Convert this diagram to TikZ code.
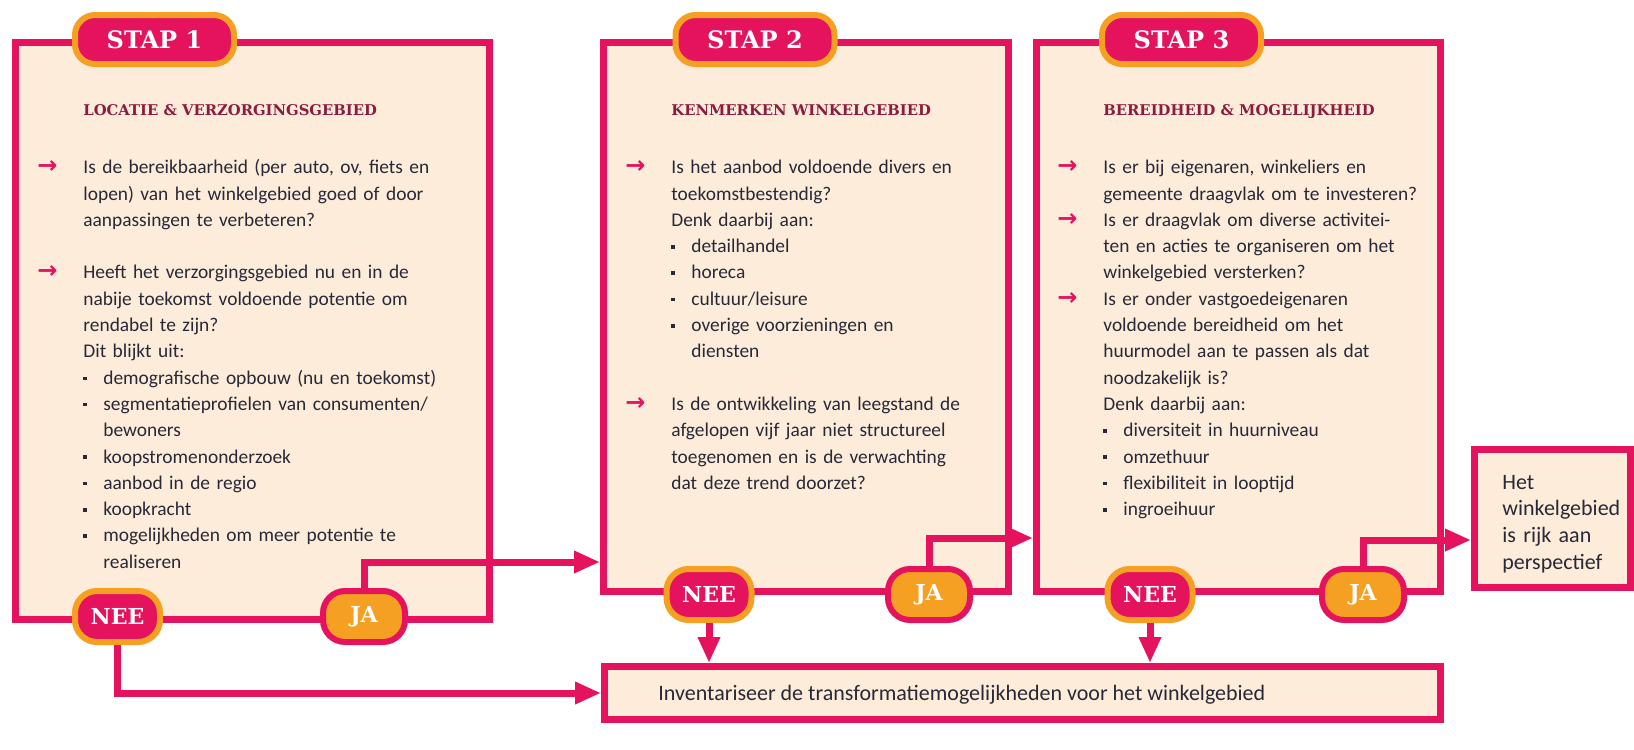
\documentclass[tikz,border=0pt]{standalone}
\usepackage{fontspec}
\setmainfont{Carlito}
\newfontfamily\slabfont{DejaVu Serif}
\newfontfamily\pijlfont{DejaVu Sans}
\usetikzlibrary{arrows.meta}

\definecolor{roze}{RGB}{229,19,94}
\definecolor{oranje}{RGB}{245,160,35}
\definecolor{beige}{RGB}{253,236,218}
\definecolor{wijnrood}{RGB}{140,28,62}
\definecolor{tekstkleur}{RGB}{40,40,55}

\newcommand{\vraag}[1]{\par\noindent\llap{\textcolor{roze}{\pijlfont\bfseries\fontsize{12}{12}\selectfont →}\hspace{13pt}}\strut#1\par}
\newcommand{\punt}[1]{\par\hangindent=10pt\hangafter=1\noindent\makebox[10pt][l]{\raisebox{2pt}{\rule{1.8pt}{1.8pt}}}\strut#1\par}

\tikzset{
  kader/.style={draw=roze, line width=3.5pt, fill=beige, inner sep=0pt},
  stap/.style={draw=oranje, fill=roze, line width=3pt, rounded corners=10pt,
    minimum width=79.5pt, minimum height=24.5pt, text=white,
    font=\slabfont\bfseries\fontsize{12}{12}\selectfont},
  nee/.style={draw=oranje, fill=roze, line width=3pt, rounded corners=11pt,
    minimum width=42.5pt, minimum height=25.5pt, text=white,
    font=\slabfont\bfseries\fontsize{11}{11}\selectfont},
  ja/.style={draw=roze, fill=oranje, line width=3pt, rounded corners=11pt,
    minimum width=41pt, minimum height=25.5pt, text=white,
    font=\slabfont\bfseries\fontsize{11}{11}\selectfont},
  kop/.style={anchor=base west, inner sep=0pt, text=wijnrood,
    font=\slabfont\bfseries\fontsize{7.4}{9}\selectfont},
  tekst/.style={anchor=north west, inner sep=0pt, text width=210pt, align=left,
    text=tekstkleur, font=\fontsize{9.7}{13.15}\selectfont},
  pijl/.style={draw=roze, line width=3.5pt, -{Triangle[length=13pt,width=10.5pt]}},
}

\begin{document}
\begin{tikzpicture}[x=0.5pt, y=-0.5pt]
\useasboundingbox (0,0) rectangle (1634,750);

% kaders
\node[kader, minimum width=237pt, minimum height=288.5pt] (kader1) at (252.5,331) {};
\node[kader, minimum width=202.5pt, minimum height=274.5pt] (kader2) at (806,317) {};
\node[kader, minimum width=202pt, minimum height=274.5pt] (kader3) at (1238.5,317) {};
\node[kader, minimum width=78pt, minimum height=69pt] (einde) at (1552.5,518.5) {};
\node[kader, minimum width=418pt, minimum height=26.5pt] (inv) at (1022.5,693) {};

% stap 1
\node[kop] (kop1) at (83,115) {LOCATIE \& VERZORGINGSGEBIED};
\node[tekst] (tekst1) at (83,147) {%
\vraag{Is de bereikbaarheid (per auto, ov, fiets en\newline lopen) van het winkelgebied goed of door\newline aanpassingen te verbeteren?}\vspace{\baselineskip}
\vraag{Heeft het verzorgingsgebied nu en in de\newline nabije toekomst voldoende potentie om\newline rendabel te zijn?\newline Dit blijkt uit:}
\punt{demografische opbouw (nu en toekomst)}
\punt{segmentatieprofielen van consumenten/\newline bewoners}
\punt{koopstromenonderzoek}
\punt{aanbod in de regio}
\punt{koopkracht}
\punt{mogelijkheden om meer potentie te\newline realiseren}};

% stap 2
\node[kop] (kop2) at (671,115) {KENMERKEN WINKELGEBIED};
\node[tekst] (tekst2) at (671,147) {%
\vraag{Is het aanbod voldoende divers en\newline toekomstbestendig?\newline Denk daarbij aan:}
\punt{detailhandel}
\punt{horeca}
\punt{cultuur/leisure}
\punt{overige voorzieningen en\newline diensten}\vspace{\baselineskip}
\vraag{Is de ontwikkeling van leegstand de\newline afgelopen vijf jaar niet structureel\newline toegenomen en is de verwachting\newline dat deze trend doorzet?}};

% stap 3
\node[kop] (kop3) at (1103,115) {BEREIDHEID \& MOGELIJKHEID};
\node[tekst] (tekst3) at (1103,147) {%
\vraag{Is er bij eigenaren, winkeliers en\newline gemeente draagvlak om te investeren?}
\vraag{Is er draagvlak om diverse activitei-\newline ten en acties te organiseren om het\newline winkelgebied versterken?}
\vraag{Is er onder vastgoedeigenaren\newline voldoende bereidheid om het\newline huurmodel aan te passen als dat\newline noodzakelijk is?\newline Denk daarbij aan:}
\punt{diversiteit in huurniveau}
\punt{omzethuur}
\punt{flexibiliteit in looptijd}
\punt{ingroeihuur}};

\node[tekst, text width=75pt, font=\fontsize{11}{13.4}\selectfont] (eindetekst) at (1502,470)
  {\strut Het\newline winkelgebied\newline is rijk aan\newline perspectief};
\node[anchor=west, inner sep=0pt, text=tekstkleur, font=\fontsize{11}{13.15}\selectfont] (invtekst) at (658,695)
  {Inventariseer de transformatiemogelijkheden voor het winkelgebied};

% labels
\node[stap] (stap1) at (154.5,39.5) {STAP 1};
\node[stap] (stap2) at (755,39.5) {STAP 2};
\node[stap] (stap3) at (1181.5,39.5) {STAP 3};

\node[nee] (nee1) at (117.5,616.5) {NEE};
\node[ja] (ja1) at (364,616.5) {JA};
\node[nee] (nee2) at (709,594.5) {NEE};
\node[ja] (ja2) at (929,594.5) {JA};
\node[nee] (nee3) at (1150,594.5) {NEE};
\node[ja] (ja3) at (1363,594.5) {JA};

% verbindingen
\coordinate (hoogte1) at (0,562);
\coordinate (hoogte2) at (0,538);
\coordinate (hoogte3) at (0,540);
\draw[pijl] (ja1.north) |- (kader2.west |- hoogte1);
\draw[pijl] (ja2.north) |- (kader3.west |- hoogte2);
\draw[pijl] (ja3.north) |- (einde.west |- hoogte3);
\draw[pijl] (nee1.south) |- (inv.west);
\draw[pijl] (nee2.south) -- (nee2.south |- inv.north);
\draw[pijl] (nee3.south) -- (nee3.south |- inv.north);
\end{tikzpicture}
\end{document}
